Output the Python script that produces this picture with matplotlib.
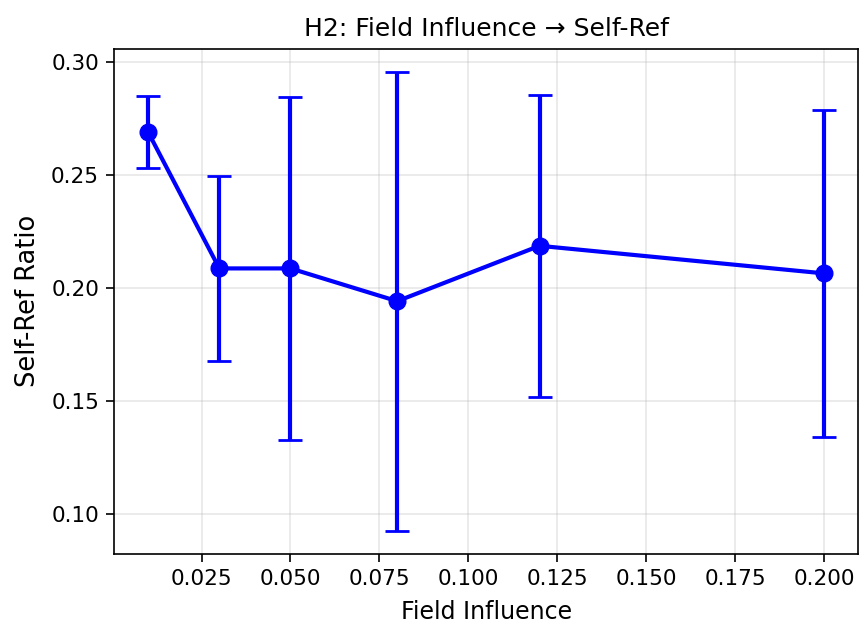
import numpy as np
import matplotlib
matplotlib.use("Agg")
import matplotlib.pyplot as plt
from matplotlib.ticker import MultipleLocator

# Field influence levels and mean self-reference ratio with error (std)
field_influence = [0.01, 0.03, 0.05, 0.08, 0.12, 0.20]
self_ref_mean = [0.2688, 0.2085, 0.2085, 0.1940, 0.2185, 0.2063]
self_ref_err = [0.0158, 0.0410, 0.0760, 0.1015, 0.0668, 0.0722]

fig = plt.figure(figsize=(8.61, 6.28), dpi=100)
ax = fig.add_axes([0.1328, 0.1186, 0.8637, 0.8036])

ax.errorbar(field_influence, self_ref_mean, yerr=self_ref_err,
            fmt="o-", color="blue", linewidth=3, markersize=12,
            elinewidth=3, capsize=8.5, capthick=2)

ax.set_title("H2: Field Influence \u2192 Self-Ref", fontsize=18, pad=9)
ax.set_xlabel("Field Influence", fontsize=17, labelpad=8)
ax.set_ylabel("Self-Ref Ratio", fontsize=18.5, labelpad=7)
ax.yaxis.set_major_locator(MultipleLocator(0.05))
ax.tick_params(labelsize=15.5, length=6, width=1.2, pad=5)
for s in ax.spines.values():
    s.set_linewidth(1.2)
ax.grid(True, alpha=0.3, linewidth=1.2)

fig.savefig("out.png", dpi=100)
